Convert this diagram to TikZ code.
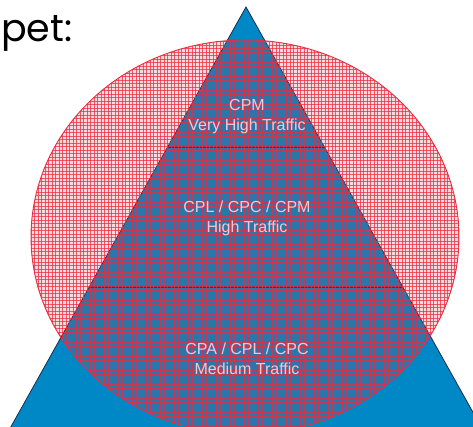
\documentclass[tikz,border=0pt]{standalone}
\usepackage{fontspec}
\setmainfont{Liberation Sans}
\newfontfamily\titlefont{Poppins}
\usetikzlibrary{calc}

\definecolor{pyrblue}{RGB}{0,135,197}
\definecolor{pyredge}{RGB}{25,45,75}
\definecolor{tierline}{RGB}{30,45,85}
\definecolor{hatchred}{RGB}{232,45,65}
\definecolor{labelpink}{RGB}{242,200,212}

\begin{document}
\begin{tikzpicture}[x=1pt,y=1pt,
		tierlabel/.style={align=center,text=labelpink,font=\fontsize{16}{20}\selectfont,inner sep=0pt},
		tierrule/.style={draw=tierline,line width=1.3pt},
		hatchline/.style={draw=hatchred,line width=1pt,opacity=0.75}]
		\useasboundingbox (0,0) rectangle (473,427);
		\clip (0,0) rectangle (473,427);

		% pyramid
		\coordinate (apex) at (246,420);
		\coordinate (bl) at (3.5,-13);
		\coordinate (br) at (488.5,-13);
		\fill[pyrblue] (apex)--(bl)--(br)--cycle;
		\draw[pyredge,line width=0.8pt] (bl)--(apex)--(br);

		% tiers
		\coordinate (t1l) at ($(apex)!0.3233!(bl)$);
		\coordinate (t1r) at ($(apex)!0.3233!(br)$);
		\coordinate (t2l) at ($(apex)!0.6467!(bl)$);
		\coordinate (t2r) at ($(apex)!0.6467!(br)$);
		\draw[tierrule] (t1l)--(t1r);
		\draw[tierrule] (t2l)--(t2r);

		% circle over the pyramid, red plaid
		\begin{scope}
			\clip (245,190) ellipse [x radius=214,y radius=197];
			\fill[hatchred,opacity=0.18] (25,-10) rectangle (465,390);
			\foreach \k in {0,...,123}
				\draw[hatchline] (31+3.5*\k,-10) -- (31+3.5*\k,390);
			\foreach \k in {0,...,114}
				\draw[hatchline] (25,-7+3.5*\k) -- (465,-7+3.5*\k);
		\end{scope}
		\draw[hatchred,line width=0.9pt] (245,190) ellipse [x radius=214,y radius=197];

		\node[tierlabel] (top) at (247,310) {CPM\\Very High Traffic};
		\node[tierlabel] (mid) at (247,208.5) {CPL / CPC / CPM\\High Traffic};
		\node[tierlabel] (low) at (247,68) {CPA / CPL / CPC\\Medium Traffic};

		\node[anchor=base west,inner sep=0pt,font=\titlefont\fontsize{38}{40}\selectfont] (title) at (1,385) {pet:};
\end{tikzpicture}
\end{document}
